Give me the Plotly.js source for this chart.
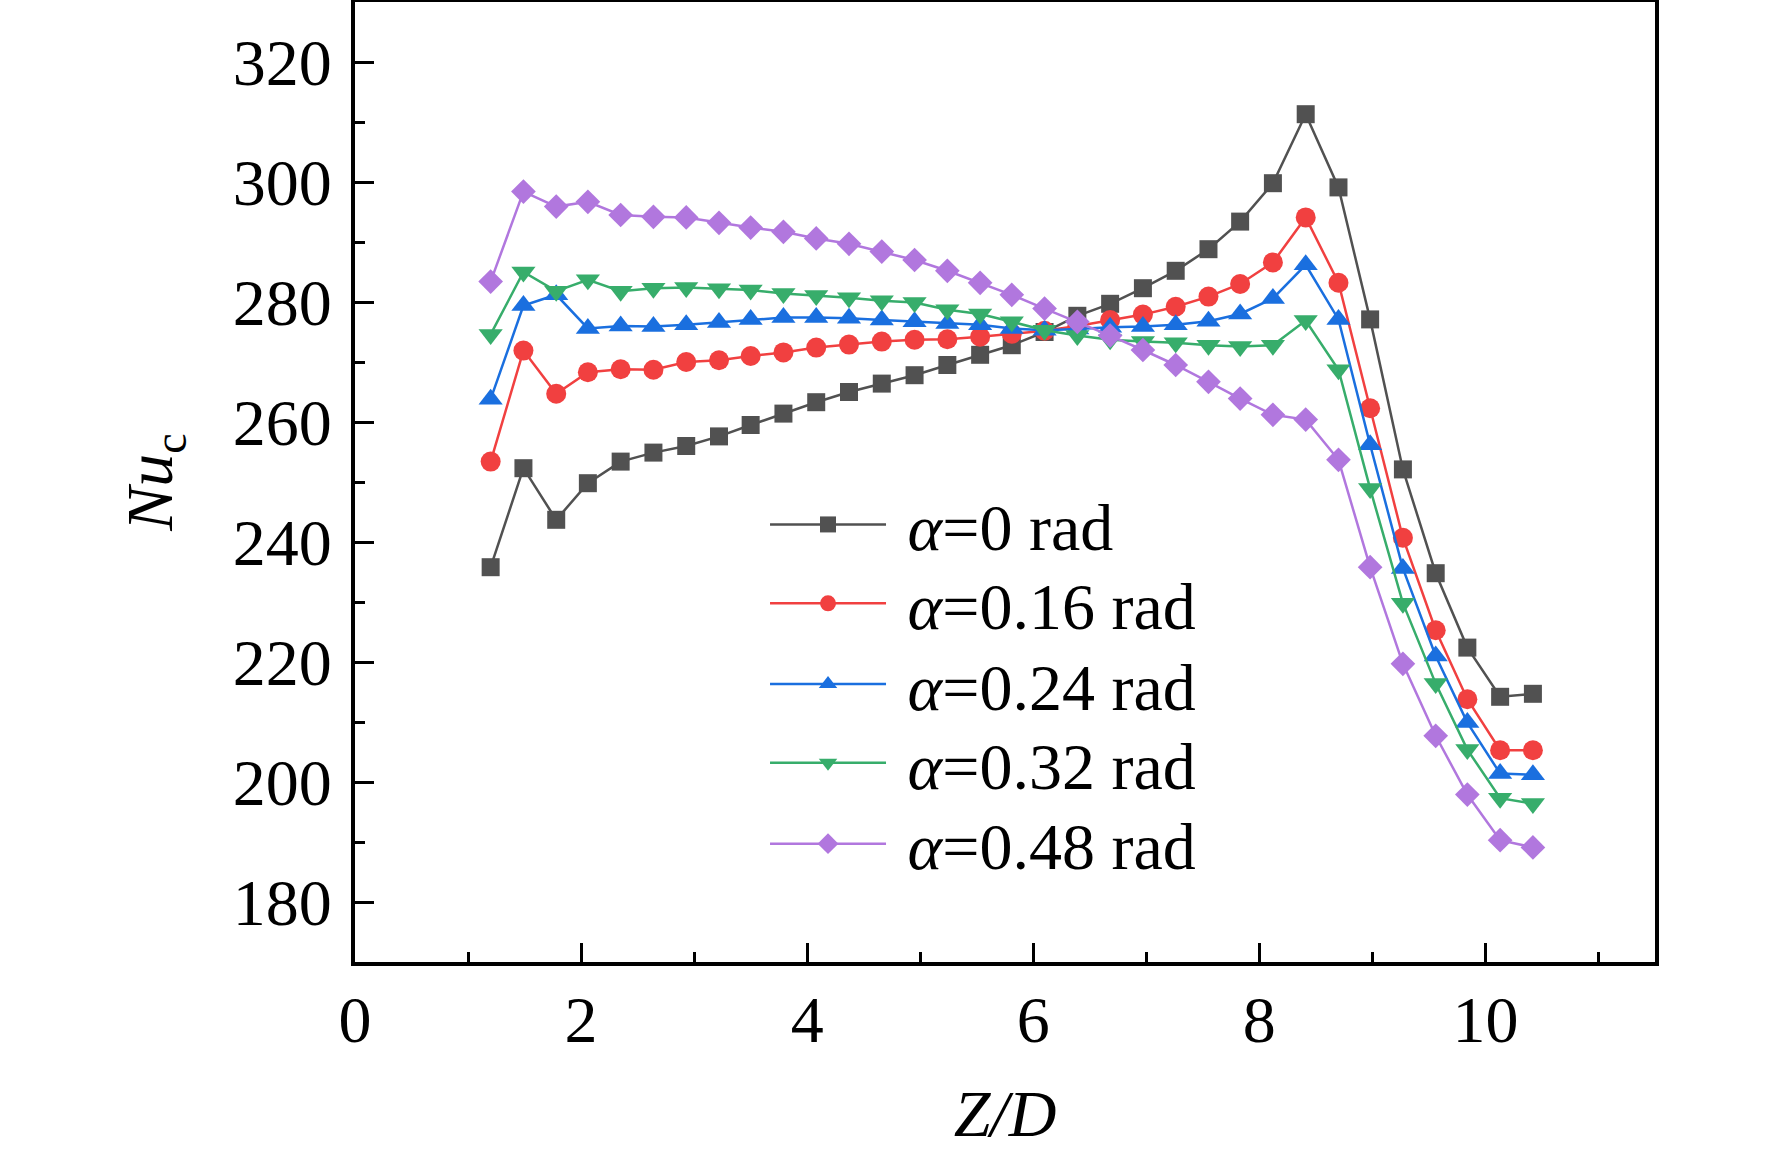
<!DOCTYPE html>
<html>
<head>
<meta charset="utf-8">
<script src="https://cdn.plot.ly/plotly-3.0.1.min.js"></script>
<style>
  html, body { margin: 0; padding: 0; background: #fff; }
  #plot { width: 1772px; height: 1150px; }
</style>
</head>
<body>
<div id="plot"></div>
<script>
// Z/D positions (same for every series)
var zd = [1.20, 1.49, 1.78, 2.06, 2.35, 2.64, 2.93, 3.22, 3.50, 3.79, 4.08,
          4.37, 4.66, 4.95, 5.24, 5.53, 5.81, 6.10, 6.39, 6.68, 6.97, 7.26,
          7.55, 7.83, 8.12, 8.41, 8.70, 8.98, 9.27, 9.56, 9.84, 10.13, 10.42];

// Nu_c for each inclination angle
var nu0 = [235.8, 252.3, 243.7, 249.8, 253.4, 254.9, 256.0, 257.6, 259.5, 261.4, 263.3,
           265.0, 266.4, 267.8, 269.5, 271.2, 272.8, 275.0, 277.7, 279.7, 282.3, 285.2,
           288.8, 293.4, 299.8, 311.3, 299.1, 277.1, 252.1, 234.8, 222.4, 214.2, 214.7];
var nu16 = [253.4, 271.9, 264.7, 268.3, 268.8, 268.7, 270.0, 270.3, 271.0, 271.6, 272.4,
            272.9, 273.4, 273.7, 273.8, 274.2, 274.7, 275.2, 276.0, 277.0, 277.9, 279.2,
            280.9, 283.0, 286.6, 294.1, 283.2, 262.3, 240.7, 225.3, 213.8, 205.3, 205.3];
var nu24 = [263.8, 279.4, 281.2, 275.6, 276.0, 275.9, 276.2, 276.6, 277.1, 277.4, 277.4,
            277.3, 277.0, 276.7, 276.4, 276.2, 275.6, 275.3, 275.5, 275.8, 275.9, 276.2,
            276.8, 278.0, 280.6, 286.2, 277.1, 256.2, 235.6, 221.0, 209.9, 201.4, 201.2];
var nu32 = [274.6, 285.0, 281.8, 283.7, 281.8, 282.3, 282.4, 282.2, 282.0, 281.4, 281.1,
            280.7, 280.2, 279.9, 278.7, 278.0, 276.7, 275.3, 274.4, 273.7, 273.4, 273.2,
            272.8, 272.6, 272.8, 276.9, 268.7, 248.9, 229.8, 216.4, 205.4, 197.3, 196.4];
var nu48 = [283.4, 298.4, 295.9, 296.7, 294.5, 294.2, 294.1, 293.2, 292.4, 291.7, 290.6,
            289.7, 288.4, 287.0, 285.2, 283.2, 281.2, 278.9, 276.7, 274.4, 272.0, 269.5,
            266.7, 263.9, 261.2, 260.4, 253.7, 235.8, 219.7, 207.7, 197.9, 190.3, 189.1];

var seriesNames = ['<i>α</i>=0 rad', '<i>α</i>=0.16 rad', '<i>α</i>=0.24 rad',
                   '<i>α</i>=0.32 rad', '<i>α</i>=0.48 rad'];
var seriesValues = [nu0, nu16, nu24, nu32, nu48];
var seriesColors = ['#515151', '#F14040', '#1A6FDF', '#37AD6B', '#B177DE'];
var seriesSymbols = ['square', 'circle', 'triangle-up', 'triangle-down', 'diamond'];
var seriesSizes = [18, 20, 21, 21, 19];

var serif = 'Liberation Serif, Times New Roman, serif';

// one legend box per row so the rows can sit at the same spacing as the original
var legendIds = ['legend', 'legend2', 'legend3', 'legend4', 'legend5'];
var legendRowY = [0.4557, 0.3735, 0.2894, 0.2074, 0.1232];

var data = [];
seriesValues.forEach(function(vals, i) {
  data.push({
    x: zd,
    y: vals,
    name: '\u00A0' + seriesNames[i],
    legend: legendIds[i],
    type: 'scatter',
    mode: 'lines+markers',
    line: { color: seriesColors[i], width: 2.5 },
    marker: { symbol: seriesSymbols[i], size: seriesSizes[i], color: seriesColors[i] }
  });
});

var layout = {
  width: 1772,
  height: 1150,
  margin: { l: 355, r: 117, t: 2, b: 188 },
  paper_bgcolor: '#fff',
  plot_bgcolor: '#fff',
  font: { family: serif, size: 66, color: '#000' },
  showlegend: true,
  xaxis: {
    range: [0, 11.5],
    tick0: 0, dtick: 2,
    ticks: 'inside', ticklen: 19, tickwidth: 3, tickcolor: '#000',
    minor: { dtick: 1, ticks: 'inside', ticklen: 10, tickwidth: 3, tickcolor: '#000' },
    showgrid: false, zeroline: false,
    showline: true, linecolor: '#000', linewidth: 4, mirror: true,
    tickfont: { family: serif, size: 66 },
    ticklabelstandoff: -3,
    title: { text: '<i>Z/D</i>', font: { family: serif, size: 66 }, standoff: 50 }
  },
  yaxis: {
    range: [170, 330],
    tick0: 180, dtick: 20,
    ticks: 'inside', ticklen: 19, tickwidth: 3, tickcolor: '#000',
    minor: { dtick: 10, ticks: 'inside', ticklen: 10, tickwidth: 3, tickcolor: '#000' },
    showgrid: false, zeroline: false,
    showline: true, linecolor: '#000', linewidth: 4, mirror: true,
    tickfont: { family: serif, size: 66 },
    ticklabelstandoff: 6,
    title: { text: '<i>Nu</i><sub>c</sub>', font: { family: serif, size: 66 }, standoff: 40 }
  }
};

legendIds.forEach(function(id, i) {
  layout[id] = {
    x: 0.3154, y: legendRowY[i], xanchor: 'left', yanchor: 'middle',
    bgcolor: 'rgba(0,0,0,0)',
    font: { family: serif, size: 66, color: '#000' },
    itemwidth: 116
  };
});

Plotly.newPlot('plot', data, layout, { displayModeBar: false, staticPlot: true });
</script>
</body>
</html>
